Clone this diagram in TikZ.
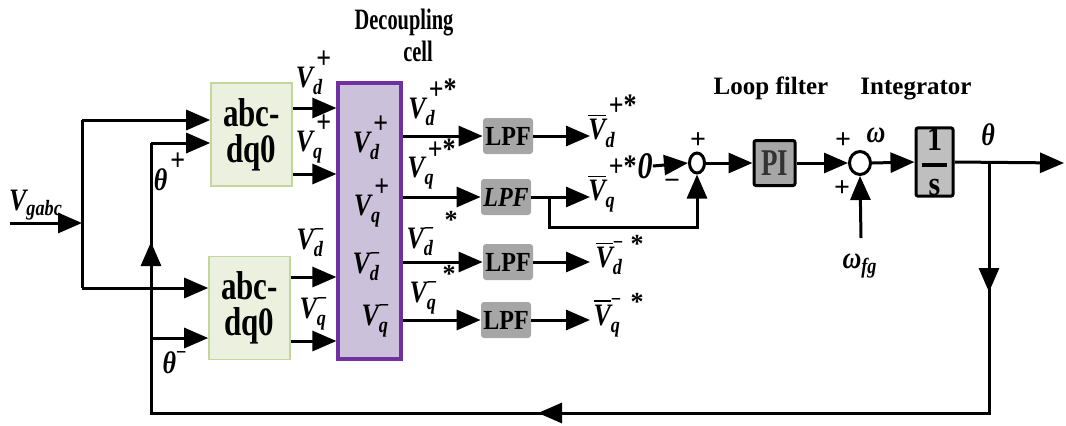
\documentclass[tikz,border=0pt]{standalone}
\usepackage{fontspec}
\setmainfont{Liberation Serif}
\usepackage{amsmath}
\usepackage{graphicx}
\usetikzlibrary{arrows.meta,shapes.geometric}

\newcommand{\vstretch}[2]{\scalebox{1}[#1]{#2}}
% bold italic serif letters usable inside math (they scale in sub/superscripts)
\newcommand{\bi}[1]{\text{\bfseries\itshape #1}}
\newcommand{\bu}[1]{\text{\bfseries #1}}
% raised bold superscript mark
\newcommand{\hi}[1]{\raisebox{2.5pt}{\bu{#1}}}

\definecolor{abcfill}{HTML}{EBF1DE}
\definecolor{abcline}{HTML}{C3D69B}
\definecolor{decfill}{HTML}{CCC1DA}
\definecolor{decline}{HTML}{7030A0}
\definecolor{lpffill}{HTML}{A6A6A6}
\definecolor{intfill}{HTML}{BFBFBF}
\definecolor{pitext}{HTML}{333333}

\tikzset{
  wire/.style={line width=1.5pt, draw=black},
  arr/.style={wire, -{Triangle[length=12pt,width=10pt]}},
  tip/.style={wire, -{Triangle[length=12pt,width=10pt]}, shorten >=-1pt},
  abcbox/.style={draw=abcline, line width=0.8pt, fill=abcfill, minimum width=40.5pt,
    minimum height=51.5pt, inner sep=0pt, align=center,
    font=\fontsize{15.5}{13}\selectfont\bfseries},
  decbox/.style={draw=decline, line width=1.6pt, fill=decfill, minimum width=31.5pt,
    minimum height=138pt, inner sep=0pt},
  lpfbox/.style={fill=lpffill, rounded corners=1.5pt, minimum width=25pt,
    minimum height=18pt, inner sep=0pt, font=\fontsize{12}{13}\selectfont\bfseries},
  sumnode/.style={ellipse, draw=black, line width=1.5pt, fill=white, inner sep=0pt},
  blockbox/.style={draw=black, line width=1.5pt, rounded corners=1pt, inner sep=0pt},
  lab/.style={inner sep=0pt, font=\fontsize{13}{15}\selectfont},
  sign/.style={inner sep=0pt, font=\fontsize{14}{16}\selectfont\bfseries},
  title/.style={inner sep=0pt, font=\fontsize{12.5}{14}\selectfont\bfseries},
}

\begin{document}
\begin{tikzpicture}[x=0.5pt, y=-0.5pt]
\useasboundingbox (0,0) rectangle (1066,425);

% ---- blocks ----
\node[abcbox] (abc1) at (251.5,134.5) {\vstretch{1.3}{abc-}\\[3pt]\vstretch{1.3}{dq0}};
\node[abcbox] (abc2) at (249.5,308) {\vstretch{1.3}{abc-}\\[3pt]\vstretch{1.3}{dq0}};
\node[decbox] (dec) at (369.5,221) {};

\node[lpfbox] (lpf1) at (508,136) {\vstretch{1.15}{LPF}};
\node[lpfbox] (lpf2) at (506,197) {\vstretch{1.15}{\textit{LPF}}};
\node[lpfbox] (lpf3) at (508,262) {\vstretch{1.15}{LPF}};
\node[lpfbox] (lpf4) at (506,320) {\vstretch{1.15}{LPF}};

\node[sumnode, minimum width=7.5pt, minimum height=10pt] (sum1) at (697,163) {};
\node[blockbox, fill=lpffill, minimum width=20.5pt, minimum height=22.5pt,
      text=pitext, font=\fontsize{13.5}{15}\selectfont\bfseries] (pi) at (774.5,163) {\vstretch{1.4}{PI}};
\node[sumnode, minimum width=10.5pt, minimum height=11.5pt] (sum2) at (860,163) {};
\node[blockbox, fill=intfill, minimum width=18.5pt, minimum height=33.5pt,
      font=\fontsize{15}{17}\selectfont] (int) at (934.5,162)
      {\vstretch{1.15}{$\genfrac{}{}{1.5pt}{0}{\,\bu{1}\,}{\bu{s}}$}};

% ---- titles ----
\node[title, font=\fontsize{10.2}{12}\selectfont\bfseries] (tdec) at (404,22) {\vstretch{1.45}{Decoupling}};
\node[title, font=\fontsize{10.2}{12}\selectfont\bfseries] (tcell) at (418,51) {\vstretch{1.45}{cell}};
\node[title] (tloop) at (771,88) {Loop filter};
\node[title] (tint) at (916,89) {Integrator};

% ---- input and angle distribution ----
\coordinate (vin) at (10,223);
\coordinate (vj) at (82,223);
\coordinate (vtop) at (82,120);
\coordinate (vbot) at (82,288);
\draw[arr] (vin) -- (vj);
\draw[wire] (vtop) -- (vbot);
\draw[arr] (vtop) -- (abc1.west |- vtop);
\draw[arr] (vbot) -- (abc2.west |- vbot);

\coordinate (thtop) at (151,143);
\coordinate (thlow) at (151,338);
\coordinate (thbot) at (151,413);
\coordinate (thj) at (989,163);
\coordinate (thdn) at (989,413);
\coordinate (thout) at (1064,163);

\draw[arr] (thtop) -- (abc1.west |- thtop);
\draw[arr] (thlow) -- (abc2.west |- thlow);

% feedback loop with its direction markers
\draw[wire] (thj) -- (thdn) -- (thbot) -- (thtop);
\draw[tip] (989,262) -- (989,290);
\draw[tip] (567,413) -- (540,413);
\draw[tip] (151,272) -- (151,244);

% ---- dq outputs into the decoupling cell ----
\draw[arr] (abc1.east |- 0,108) -- (dec.west |- 0,108);
\draw[arr] (abc1.east |- 0,174) -- (dec.west |- 0,174);
\draw[arr] (abc2.east |- 0,277) -- (dec.west |- 0,277);
\draw[arr] (abc2.east |- 0,341) -- (dec.west |- 0,341);

% ---- decoupled signals into the filters ----
\draw[arr] (dec.east |- lpf1) -- (lpf1.west);
\draw[arr] (dec.east |- lpf2) -- (lpf2.west);
\draw[arr] (dec.east |- lpf3) -- (lpf3.west);
\draw[arr] (dec.east |- lpf4) -- (lpf4.west);

% ---- filter outputs ----
\coordinate (f1) at (590,136);
\coordinate (f2) at (590,197);
\coordinate (f3) at (590,262);
\coordinate (f4) at (590,320);
\draw[arr] (lpf1.east) -- (f1);
\draw[arr] (lpf2.east) -- (f2);
\draw[arr] (lpf3.east) -- (f3);
\draw[arr] (lpf4.east) -- (f4);

% q-axis error fed to the first summer
\coordinate (qb) at (549,197);
\coordinate (qd) at (549,227);
\draw[arr] (qb) -- (qd) -| (sum1.south);

% ---- PLL forward path ----
\node[inner sep=0pt, font=\fontsize{15}{17}\selectfont\bfseries\itshape] (zero) at (645,166) {\vstretch{1.25}{0}};
\draw[arr] (zero.east) -- (sum1.west);
\draw[arr] (sum1.east) -- (pi.west);
\draw[arr] (pi.east) -- (sum2.west);
\draw[arr] (sum2.east) -- (int.west);
\draw[arr] (int.east) -- (thout);

\node[lab] (wfg) at (860,266) {\vstretch{1.2}{$\bi{ω}_{\bi{fg}}$}};
\coordinate (wfgtop) at (861,238);
\draw[arr] (wfgtop) -- (sum2.south);

% ---- signs ----
\node[sign] (s1p) at (698,141) {+};
\node[sign] (s1m) at (672,184) {−};
\node[sign] (s2p) at (843,141) {+};
\node[sign] (s2q) at (842,189) {+};

% ---- signal labels ----
\node[lab] (lvg) at (36,205) {\vstretch{1.2}{$\bi{V}_{\bi{gabc}}$}};
\node[lab] (lthp) at (170,172) {\vstretch{1.2}{$\bi{θ}^{\,\hi{+}}$}};
\node[lab] (lthm) at (175,363) {\vstretch{1.2}{$\bi{θ}^{\bu{−}}$}};

\node[lab] (lo1) at (314,73) {\vstretch{1.2}{$\bi{V}_{\bi{d}}^{\,\hi{+}}$}};
\node[lab] (lo2) at (314,139) {\vstretch{1.2}{$\bi{V}_{\bi{q}}^{\,\hi{+}}$}};
\node[lab] (lo3) at (311,243) {\vstretch{1.2}{$\bi{V}_{\bi{d}}^{\bu{−}}$}};
\node[lab] (lo4) at (314,314) {\vstretch{1.2}{$\bi{V}_{\bi{q}}^{\bu{−}}$}};

\node[lab] (lc1) at (371,138) {\vstretch{1.2}{$\bi{V}_{\bi{d}}^{\,\hi{+}}$}};
\node[lab] (lc2) at (372,203) {\vstretch{1.2}{$\bi{V}_{\bi{q}}^{\,\hi{+}}$}};
\node[lab] (lc3) at (367,267) {\vstretch{1.2}{$\bi{V}_{\bi{d}}^{\bu{−}}$}};
\node[lab] (lc4) at (376,321) {\vstretch{1.2}{$\bi{V}_{\bi{q}}^{\bu{−}}$}};

\node[lab] (lp1) at (433,102) {\vstretch{1.2}{$\bi{V}_{\bi{d}}^{\,\hi{+*}}$}};
\node[lab] (lp2) at (432,164) {\vstretch{1.2}{$\bi{V}_{\bi{q}}^{\,\hi{+*}}$}};
\node[lab] (lp3) at (421,242) {\vstretch{1.2}{$\bi{V}_{\bi{d}}^{\bu{−}}$}};
\node[lab] (lp3s) at (451,220) {\bfseries *};
\node[lab] (lp4) at (424,298) {\vstretch{1.2}{$\bi{V}_{\bi{q}}^{\bu{−}}$}};
\node[lab] (lp4s) at (449,274) {\bfseries *};

\node[lab] (lf1) at (613,121) {\vstretch{1.2}{$\overline{\bi{V}}_{\bi{d}}^{\,\hi{+*}}$}};
\node[lab] (lf2) at (613,184) {\vstretch{1.2}{$\overline{\bi{V}}_{\bi{q}}^{\,\hi{+*}}$}};
\node[lab] (lf3) at (610,258) {\vstretch{1.2}{$\overline{\bi{V}}_{\bi{d}}^{\bu{−}}$}};
\node[lab] (lf3s) at (637,244) {\bfseries *};
\node[lab] (lf4) at (608,318) {\vstretch{1.2}{$\overline{\bi{V}}_{\bi{q}}^{\bu{−}}$}};
\node[lab] (lf4s) at (637,302) {\bfseries *};

\node[lab] (lw) at (876,135) {\vstretch{1.2}{\bi{ω}}};
\node[lab] (lth) at (988,135) {\vstretch{1.2}{\bi{θ}}};

\end{tikzpicture}
\end{document}
